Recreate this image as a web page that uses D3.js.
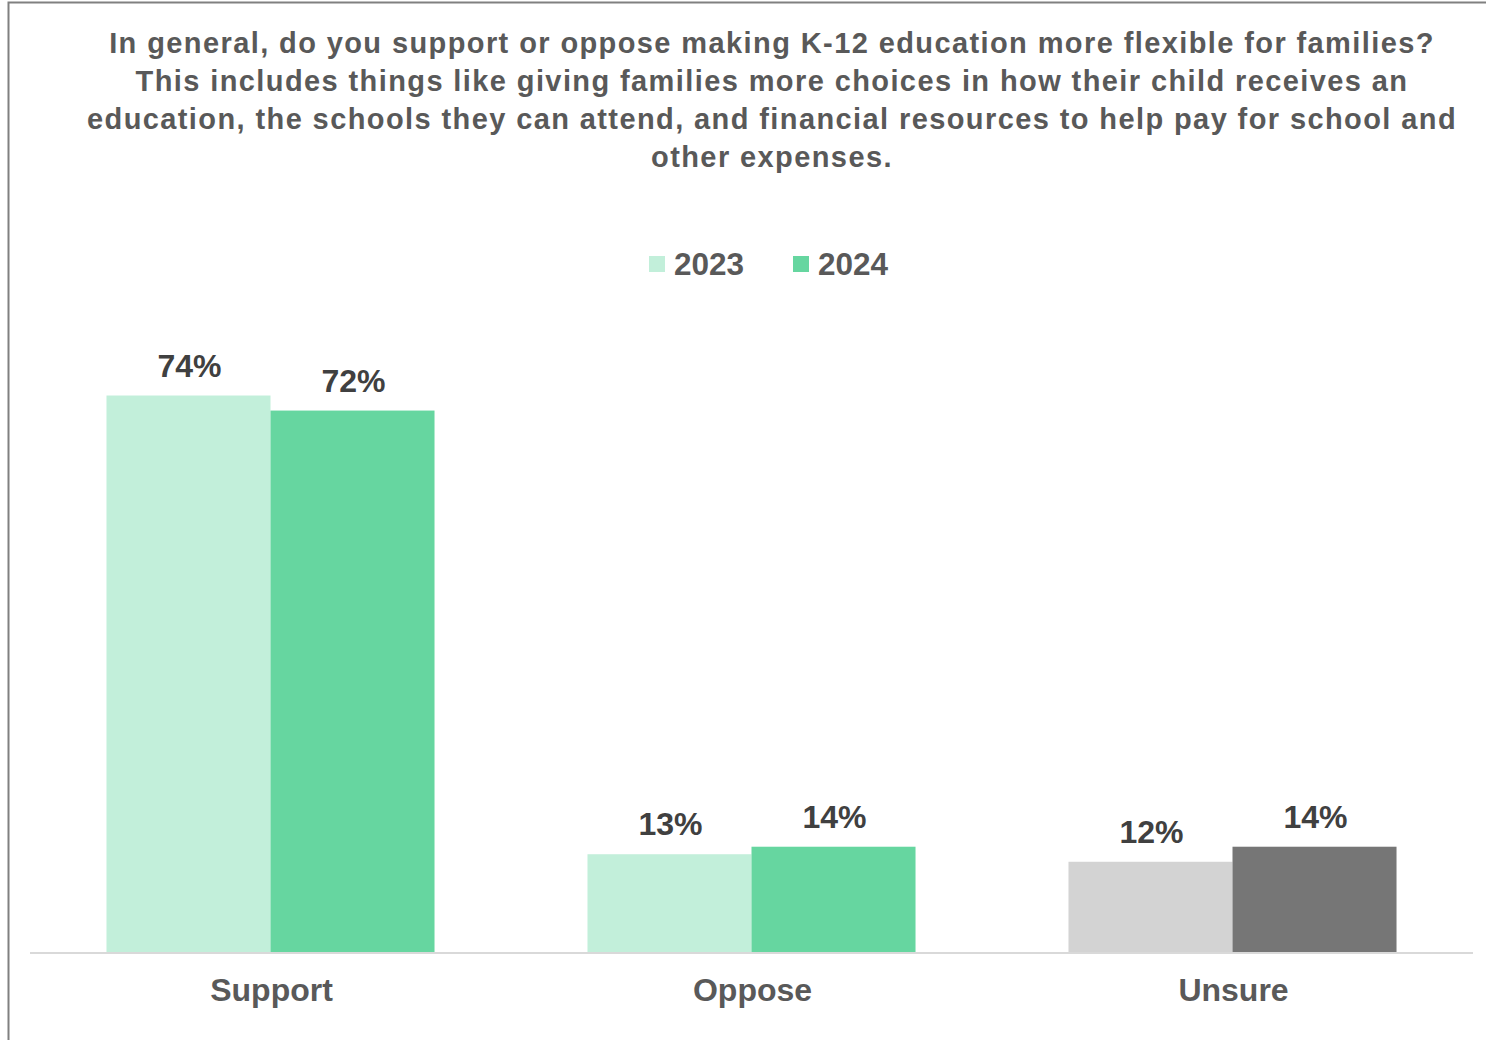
<!DOCTYPE html>
<html><head><meta charset="utf-8">
<script src="https://cdn.jsdelivr.net/npm/d3@7"></script>
<style>html,body{margin:0;padding:0;background:#fff;overflow:hidden}</style>
</head><body>
<script>
const titleLines = [
  "In general, do you support or oppose making K-12 education more flexible for families?",
  "This includes things like giving families more choices in how their child receives an",
  "education, the schools they can attend, and financial resources to help pay for school and",
  "other expenses."
];
const categories = ["Support", "Oppose", "Unsure"];
const seriesNames = ["2023", "2024"];
const values2023 = [74, 13, 12];
const values2024 = [72, 14, 14];
const colors2023 = ["#c2efda", "#c2efda", "#d3d3d3"];
const colors2024 = ["#66d6a0", "#66d6a0", "#767676"];
const legendColors = ["#c2efda", "#66d6a0"];

const W = 1486, H = 1040;
const svg = d3.select("body").append("svg").attr("width", W).attr("height", H);
const font = "'Liberation Sans', Arial, sans-serif";

svg.append("rect").attr("x", 8.5).attr("y", 2.5).attr("width", 1600).attr("height", 1200)
  .attr("fill", "none").attr("stroke", "#808080").attr("stroke-width", 2);

svg.append("g").selectAll("text").data(titleLines).join("text")
  .attr("x", 772).attr("y", (d, i) => 53 + i * 38)
  .attr("text-anchor", "middle").attr("font-family", font).attr("font-weight", "bold")
  .attr("font-size", 29).attr("letter-spacing", 1.4).attr("fill", "#595959").text(d => d);

// legend
const legend = svg.append("g");
const legendX = [649, 793];
seriesNames.forEach((s, i) => {
  legend.append("rect").attr("x", legendX[i]).attr("y", 256).attr("width", 16).attr("height", 16).attr("fill", legendColors[i]);
  legend.append("text").attr("x", legendX[i] + 25).attr("y", 275).attr("font-family", font)
    .attr("font-weight", "bold").attr("font-size", 31.5).attr("fill", "#595959").text(s);
});

const x0 = d3.scaleBand().domain(categories).range([30, 1473]).paddingInner(0.318).paddingOuter(0.159);
const x1 = d3.scaleBand().domain(seriesNames).range([0, x0.bandwidth()]);
const y = d3.scaleLinear().domain([0, 80]).range([952, 952 - 80 * 7.52]);

const data = [];
categories.forEach((c, i) => {
  data.push({cat: c, s: "2023", v: values2023[i], color: colors2023[i]});
  data.push({cat: c, s: "2024", v: values2024[i], color: colors2024[i]});
});

svg.append("g").selectAll("rect").data(data).join("rect")
  .attr("x", d => x0(d.cat) + x1(d.s)).attr("width", x1.bandwidth())
  .attr("y", d => y(d.v)).attr("height", d => y(0) - y(d.v)).attr("fill", d => d.color);

svg.append("g").selectAll("text").data(data).join("text")
  .attr("x", d => x0(d.cat) + x1(d.s) + x1.bandwidth() / 2 + 1).attr("y", d => y(d.v) - 19)
  .attr("text-anchor", "middle").attr("font-family", font).attr("font-weight", "bold")
  .attr("font-size", 32).attr("fill", "#404040").text(d => d.v + "%");

const axis = svg.append("g").attr("transform", `translate(0,${y(0)})`)
  .call(d3.axisBottom(x0).tickSize(0).tickPadding(0));
axis.select(".domain").attr("stroke", "#d9d9d9").attr("stroke-width", 2).attr("d", "M30,1H1473");
axis.selectAll(".tick text").attr("x", 1).attr("y", 49).attr("dy", 0).attr("font-family", font).attr("font-weight", "bold")
  .attr("font-size", 32).attr("fill", "#595959");
</script>
</body></html>
